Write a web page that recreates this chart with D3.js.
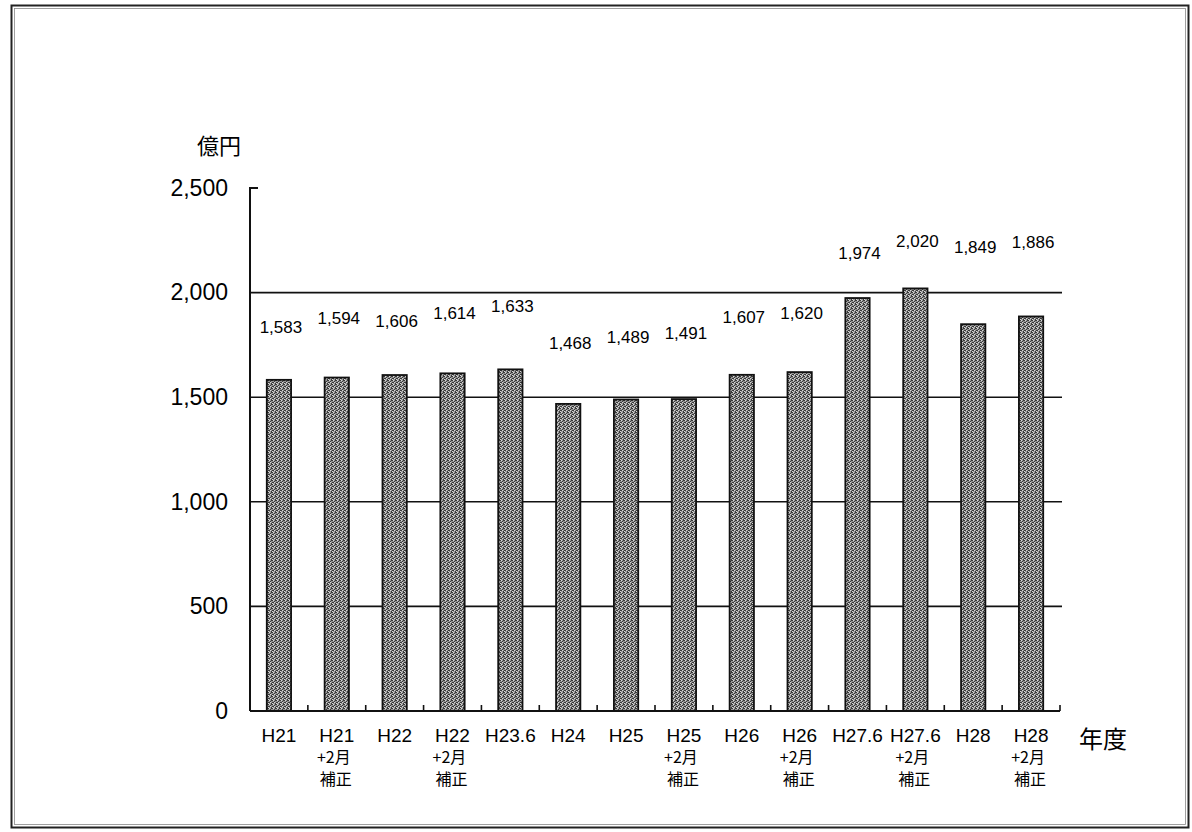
<!DOCTYPE html>
<html>
<head>
<meta charset="utf-8">
<script src="https://cdn.jsdelivr.net/npm/d3@7"></script>
<style>
  html, body { margin: 0; padding: 0; background: #fff; }
  svg { display: block; }
  text { font-family: "Liberation Sans", Arial, "Noto Sans CJK JP", sans-serif; fill: #000; }
  .jp { font-family: "Noto Sans CJK JP", sans-serif; }
</style>
</head>
<body>
<svg id="chart" width="1192" height="832"></svg>
<script>
// ---- data ----
const categories = ["H21", "H21+2月補正", "H22", "H22+2月補正", "H23.6", "H24", "H25",
                    "H25+2月補正", "H26", "H26+2月補正", "H27.6", "H27.6+2月補正", "H28", "H28+2月補正"];
const labelLine1 = ["H21", "H21", "H22", "H22", "H23.6", "H24", "H25",
                    "H25", "H26", "H26", "H27.6", "H27.6", "H28", "H28"];
const labelSupplement = [false, true, false, true, false, false, false,
                         true, false, true, false, true, false, true];
const values = [1583, 1594, 1606, 1614, 1633, 1468, 1489, 1491, 1607, 1620, 1974, 2020, 1849, 1886];
// height (in 億円 units) at which each value label sits in the original
const labelAt = [1836, 1879, 1864, 1902, 1936, 1759, 1788, 1807, 1883, 1902, 2189, 2247, 2218, 2242];
const yTicks = [0, 500, 1000, 1500, 2000, 2500];
const yUnit = "億円";
const xUnit = "年度";

// ---- layout ----
const svg = d3.select("#chart");
const x0 = 250, x1 = 1060, yBase = 711, yTop = 188;

const x = d3.scaleBand().domain(categories).range([x0, x1])
  .paddingInner(0.58).paddingOuter(0.29);
const y = d3.scaleLinear().domain([0, 2500]).range([yBase, yTop]);
const fmt = d3.format(",");

// frame
svg.append("rect").attr("x", 11.5).attr("y", 5.5).attr("width", 1177).attr("height", 822)
  .attr("fill", "none").attr("stroke", "#222").attr("stroke-width", 2);
svg.append("rect").attr("x", 14.5).attr("y", 8.5).attr("width", 1171).attr("height", 816)
  .attr("fill", "none").attr("stroke", "#888").attr("stroke-width", 0.8);

// stipple pattern for bars
const defs = svg.append("defs");
const pat = defs.append("pattern").attr("id", "stip").attr("patternUnits", "userSpaceOnUse")
  .attr("width", 4).attr("height", 4);
pat.append("rect").attr("width", 4).attr("height", 4).attr("fill", "#969696");
[[0,0],[2,1],[1,2],[3,3],[3,0],[0,2]].forEach(([a,b]) =>
  pat.append("rect").attr("x", a).attr("y", b).attr("width", 1).attr("height", 1).attr("fill", "#383838"));
[[1,0],[0,3],[2,2]].forEach(([a,b]) =>
  pat.append("rect").attr("x", a).attr("y", b).attr("width", 1).attr("height", 1).attr("fill", "#d8d8d8"));

// gridlines
svg.append("g").selectAll("line").data(yTicks.filter(d => d > 0 && d < 2500)).join("line")
  .attr("x1", x0).attr("x2", x1 + 2)
  .attr("y1", d => y(d)).attr("y2", d => y(d))
  .attr("stroke", "#111").attr("stroke-width", 1.6);

// bars
svg.append("g").selectAll("rect").data(values).join("rect")
  .attr("x", (d, i) => x(categories[i]))
  .attr("y", d => y(d))
  .attr("width", x.bandwidth())
  .attr("height", d => y(0) - y(d))
  .attr("fill", "url(#stip)")
  .attr("stroke", "#111").attr("stroke-width", 1.8);

// y axis
const yAxis = d3.axisLeft(y).tickValues(yTicks).tickSize(0).tickFormat(fmt).tickPadding(22);
const gy = svg.append("g").attr("transform", `translate(${x0},0)`).call(yAxis);
gy.select(".domain").remove();
gy.selectAll("text").attr("font-size", 23).attr("fill", "#000")
  .style("font-family", "'Liberation Sans', Arial, sans-serif");
svg.append("line").attr("x1", x0).attr("x2", x0).attr("y1", yTop - 1).attr("y2", yBase)
  .attr("stroke", "#111").attr("stroke-width", 2);
svg.append("line").attr("x1", x0).attr("x2", x0 + 8).attr("y1", y(2500)).attr("y2", y(2500))
  .attr("stroke", "#111").attr("stroke-width", 2);

// x axis line + upward boundary ticks
svg.append("line").attr("x1", x0).attr("x2", x1).attr("y1", yBase).attr("y2", yBase)
  .attr("stroke", "#111").attr("stroke-width", 2);
const bounds = categories.map(c => x(c) - x.step() * x.paddingInner() / 2 + x.step());
svg.append("g").selectAll("line").data(bounds).join("line")
  .attr("x1", d => d).attr("x2", d => d).attr("y1", yBase).attr("y2", yBase - 6)
  .attr("stroke", "#111").attr("stroke-width", 1.6);

// x labels
const xl = svg.append("g");
categories.forEach((c, i) => {
  const cx = x(c) + x.bandwidth() / 2;
  xl.append("text").attr("x", cx).attr("y", 742).attr("text-anchor", "middle")
    .attr("font-size", 19).text(labelLine1[i]);
  if (labelSupplement[i]) {
    xl.append("text").attr("class", "jp").attr("text-anchor", "middle")
      .attr("font-size", 16).attr("x", cx - 3).attr("y", 763).text("+2月");
    xl.append("text").attr("class", "jp").attr("text-anchor", "middle")
      .attr("font-size", 16).attr("x", cx - 1).attr("y", 785).text("補正");
  }
});

// value labels
svg.append("g").selectAll("text").data(values).join("text")
  .attr("x", (d, i) => x(categories[i]) + x.bandwidth() / 2 + 2)
  .attr("y", (d, i) => y(labelAt[i]) + 6)
  .attr("text-anchor", "middle").attr("font-size", 17)
  .text(d => fmt(d));

// unit labels
svg.append("text").attr("class", "jp").attr("x", 219).attr("y", 154).attr("text-anchor", "middle")
  .attr("font-size", 22).text(yUnit);
svg.append("text").attr("class", "jp").attr("x", 1103).attr("y", 748).attr("text-anchor", "middle")
  .attr("font-size", 24).text(xUnit);
</script>
</body>
</html>
